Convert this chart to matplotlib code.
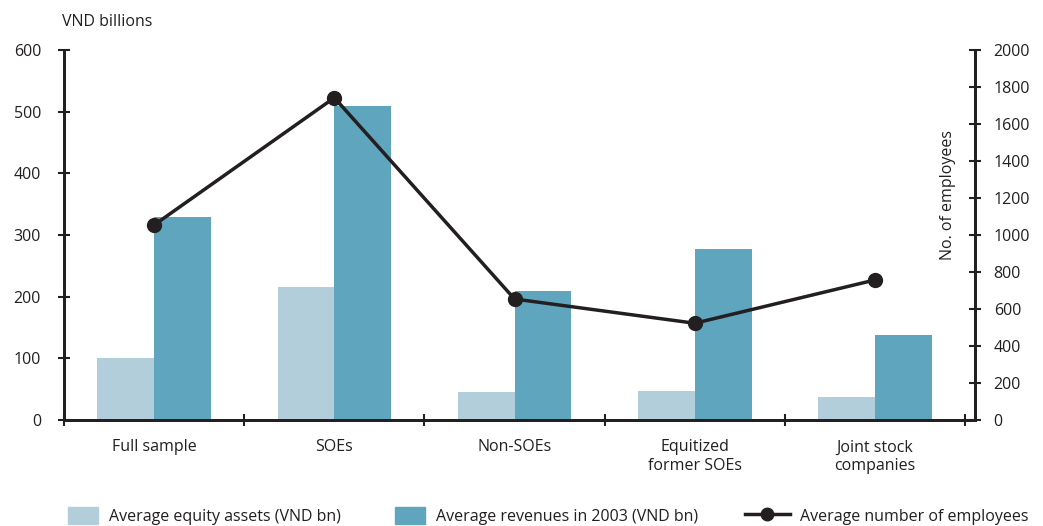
import matplotlib
matplotlib.use("Agg")
import matplotlib.pyplot as plt
import numpy as np
from matplotlib.lines import Line2D
from matplotlib.patches import Patch

plt.rcParams['font.family'] = ['Open Sans', 'DejaVu Sans']

categories = ["Full sample", "SOEs", "Non-SOEs", "Equitized\nformer SOEs", "Joint stock\ncompanies"]
equity = [100, 215, 45, 47, 37]
revenues = [329, 510, 210, 277, 138]
employees = [1054, 1742, 654, 523, 757]

light = "#b3cedb"
dark = "#5ea5bd"
ink = "#231f20"
fs = 11.5

fig = plt.figure(figsize=(10.43, 5.26), dpi=100)
ax = fig.add_axes([64/1043, 1-420/526, (975-64)/1043, 370/526])
ax2 = ax.twinx()

x = np.arange(len(categories))
w = 0.315
ax.bar(x - w/2, equity, w, color=light)
ax.bar(x + w/2, revenues, w, color=dark)
ax2.plot(x, employees, color=ink, lw=2.5, marker="o", ms=10)

ax.set_xlim(-0.5, 4.555)
ax.set_ylim(0, 600)
ax2.set_ylim(0, 2000)
ax.set_yticks(np.arange(0, 601, 100))
ax2.set_yticks(np.arange(0, 2001, 200))

ax.set_xticks(np.arange(-0.5, 4.6, 1))
ax.set_xticklabels([])
ax.set_xticks(x, minor=True)
ax.set_xticklabels(categories, minor=True, fontsize=fs, color=ink)
ax.tick_params(axis="x", which="major", direction="inout", length=9, width=1.5, color=ink)
ax.tick_params(axis="x", which="minor", length=0, pad=14)

ax.tick_params(axis="y", direction="inout", length=9, width=1.5, color=ink, labelsize=fs, labelcolor=ink, pad=12)
ax2.tick_params(axis="y", direction="inout", length=9, width=1.5, color=ink, labelsize=fs, labelcolor=ink, pad=9)

for a in (ax, ax2):
    a.spines["top"].set_visible(False)
    for s in ("left", "right", "bottom"):
        a.spines[s].set_linewidth(2)
        a.spines[s].set_color(ink)

fig.text(62/1043, 1-22/526, "VND billions", fontsize=fs, color=ink, ha="left", va="center")
fig.text(948/1043, 1-195/526, "No. of employees", fontsize=fs, color=ink, rotation=90, ha="center", va="center")

# legend entries placed one by one along the bottom
handles = [Patch(color=light), Patch(color=dark), Line2D([], [], color=ink, lw=2.5, marker="o", ms=9)]
labels = ["Average equity assets (VND bn)", "Average revenues in 2003 (VND bn)", "Average number of employees"]
starts = [68, 395, 745]
hlens = [1.9, 1.9, 2.8]
for h, l, s, hl in zip(handles, labels, starts, hlens):
    fig.legend([h], [l], loc="center left", bbox_to_anchor=(s/1043, 1-516/526), frameon=False,
               fontsize=fs, handlelength=hl, handleheight=1.3, handletextpad=0.65,
               labelcolor=ink, borderaxespad=0, borderpad=0)

fig.savefig("out.png", dpi=100)
